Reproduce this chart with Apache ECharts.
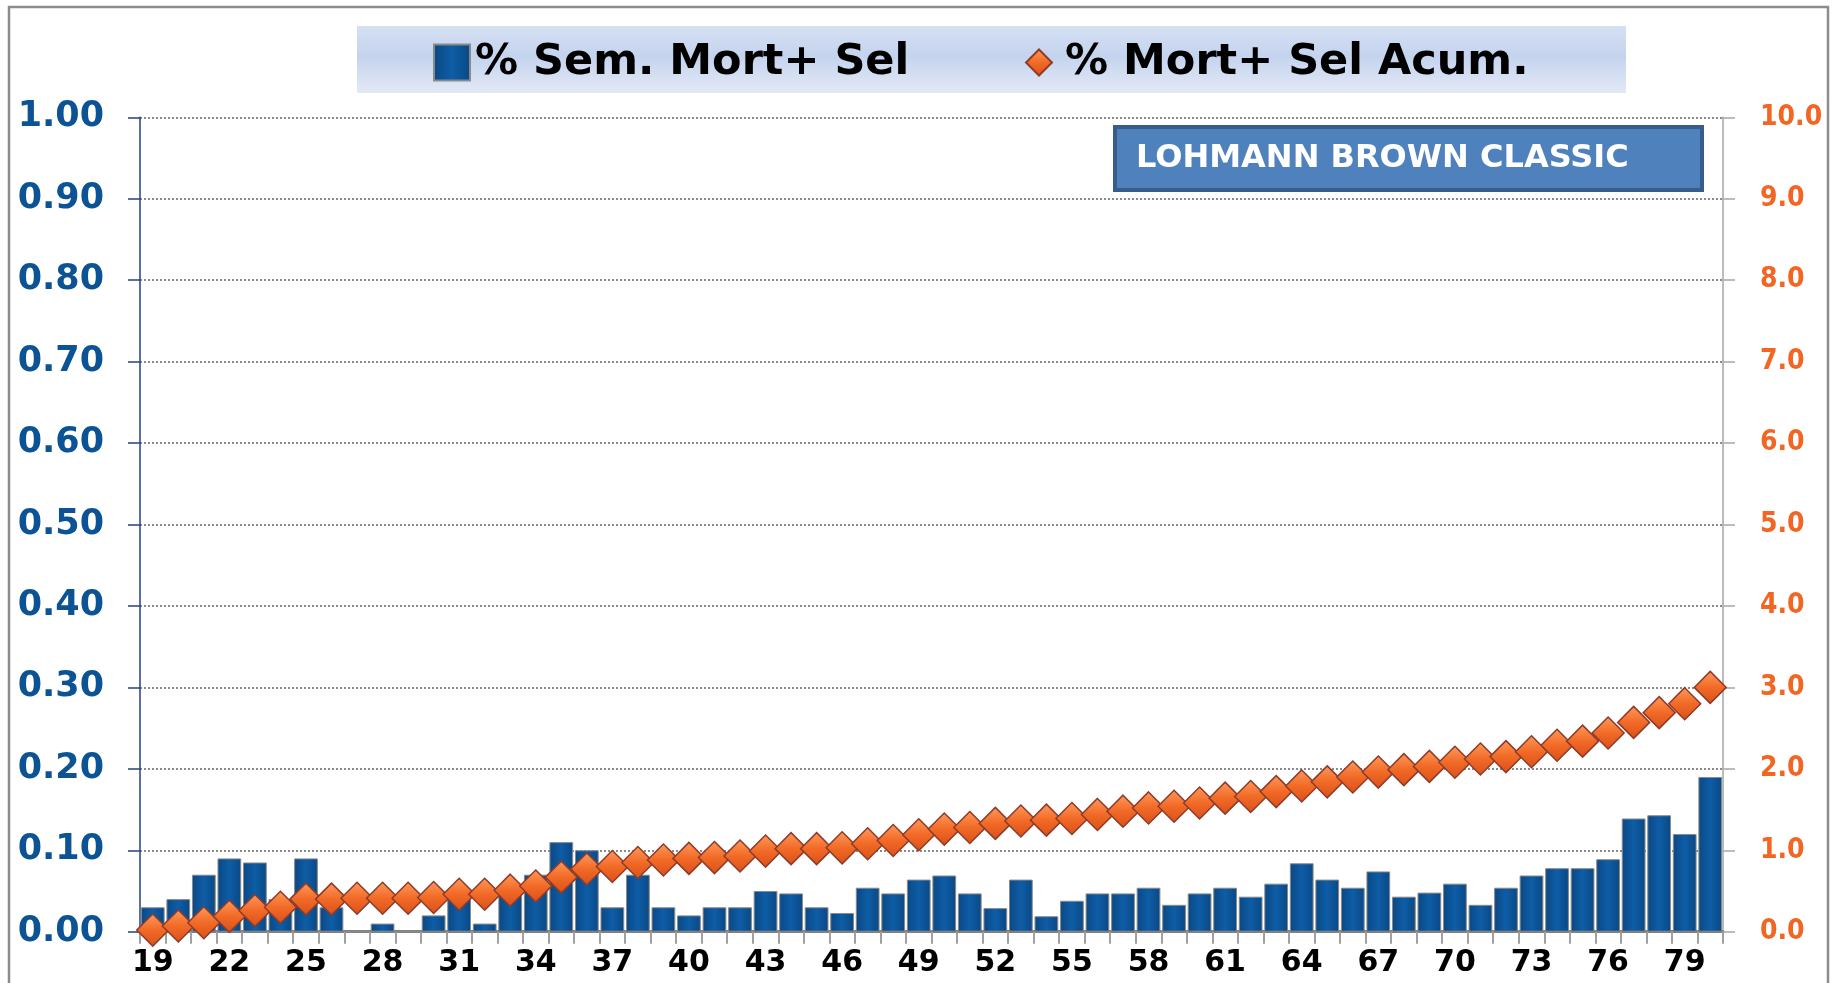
<!DOCTYPE html>
<html>
<head>
<meta charset="utf-8">
<script src="https://cdn.jsdelivr.net/npm/echarts@6/dist/echarts.min.js"></script>
<style>
html,body{margin:0;padding:0;background:#fff;}
#chart{width:1837px;height:983px;}
</style>
</head>
<body>
<div id="chart"></div>
<script>
const weeks = [19,20,21,22,23,24,25,26,27,28,29,30,31,32,33,34,35,36,37,38,39,40,41,42,43,44,45,46,47,48,49,50,51,52,53,54,55,56,57,58,59,60,61,62,63,64,65,66,67,68,69,70,71,72,73,74,75,76,77,78,79,80];
const weeklyMortSel = [0.03,0.04,0.07,0.09,0.085,0.04,0.09,0.03,0,0.01,0,0.02,0.04,0.01,0.05,0.07,0.11,0.10,0.03,0.07,0.03,0.02,0.03,0.03,0.05,0.047,0.03,0.023,0.054,0.047,0.064,0.069,0.047,0.029,0.064,0.019,0.038,0.047,0.047,0.054,0.033,0.047,0.054,0.043,0.059,0.084,0.064,0.054,0.074,0.043,0.048,0.059,0.033,0.054,0.069,0.078,0.078,0.089,0.139,0.143,0.12,0.19];
const cumMortSel = [0.02,0.07,0.11,0.19,0.26,0.30,0.40,0.40,0.41,0.41,0.41,0.42,0.46,0.46,0.51,0.56,0.67,0.77,0.80,0.85,0.88,0.90,0.91,0.93,0.99,1.02,1.02,1.03,1.08,1.12,1.19,1.26,1.28,1.33,1.36,1.37,1.39,1.44,1.48,1.52,1.54,1.58,1.64,1.66,1.72,1.79,1.84,1.90,1.96,1.99,2.03,2.08,2.12,2.15,2.21,2.29,2.34,2.44,2.57,2.69,2.80,3.00];
const seriesNames = ['% Sem. Mort+ Sel', '% Mort+ Sel Acum.'];
const chartTitle = 'LOHMANN BROWN CLASSIC';

const barFill = new echarts.graphic.LinearGradient(0,0,1,0,[
  {offset:0,color:'#0A4884'},{offset:0.5,color:'#0E5DA6'},{offset:1,color:'#0A4884'}]);
const diaFill = new echarts.graphic.LinearGradient(0,0,0,1,[
  {offset:0,color:'#FF9A5C'},{offset:0.5,color:'#F26A26'},{offset:1,color:'#D9501A'}]);

const chart = echarts.init(document.getElementById('chart'), null, {renderer:'canvas'});
chart.setOption({
  animation:false,
  backgroundColor:'#ffffff',
  textStyle:{fontFamily:'DejaVu Sans'},
  graphic:[
    {type:'rect', z:-10, shape:{x:9,y:7,width:1819,height:990}, style:{fill:'none',stroke:'#8C8C8C',lineWidth:2.5}},
    {type:'rect', z:-5, shape:{x:357,y:26,width:1269,height:67},
      style:{fill:new echarts.graphic.LinearGradient(0,0,0,1,[
        {offset:0,color:'#D6E0F3'},{offset:0.45,color:'#C4D3EE'},{offset:1,color:'#E3EAF6'}])}}
  ],
  title:{
    text:chartTitle, left:1115, top:127,
    backgroundColor:'#4F81BD', borderColor:'#385D8A', borderWidth:4,
    padding:[15,74,15,21],
    textStyle:{color:'#ffffff', fontFamily:'DejaVu Sans', fontWeight:'bold', fontSize:32, lineHeight:33}
  },
  legend:[
    {data:[{name:seriesNames[0], icon:'rect'}], left:433, top:41, padding:0, itemWidth:36, itemHeight:36,
      textStyle:{fontFamily:'DejaVu Sans', fontWeight:'bold', fontSize:43, color:'#000'}},
    {data:[{name:seriesNames[1], icon:'diamond'}], left:1025, top:41, padding:0, itemWidth:26, itemHeight:26,
      textStyle:{fontFamily:'DejaVu Sans', fontWeight:'bold', fontSize:43, color:'#000', padding:[0,0,0,8]}}
  ],
  grid:{left:140, right:114, top:117.3, bottom:51.3, containLabel:false},
  xAxis:{
    type:'category', data:weeks,
    axisLine:{show:true, lineStyle:{color:'#808080', width:3}},
    axisTick:{show:true, interval:0, length:12, lineStyle:{color:'#A0A0A0', width:2}},
    axisLabel:{interval:2, margin:17, color:'#000', fontFamily:'DejaVu Sans', fontWeight:'bold', fontSize:30}
  },
  yAxis:[
    {type:'value', min:0, max:1, interval:0.1, position:'left',
      axisLine:{show:true, lineStyle:{color:'#24407F', width:1.5}},
      axisTick:{show:true, length:12, lineStyle:{color:'#24407F', width:1.5}},
      axisLabel:{margin:36, color:'#0B5394', fontFamily:'DejaVu Sans', fontWeight:'bold', fontSize:35,
        formatter:v=>v.toFixed(2)},
      splitLine:{show:true, lineStyle:{color:'#8A8A8A', width:2, type:[2,2]}}
    },
    {type:'value', min:0, max:10, interval:1, position:'right',
      axisLine:{show:true, lineStyle:{color:'#A6A6A6', width:1.5}},
      axisTick:{show:true, length:12, lineStyle:{color:'#A6A6A6', width:1.5}},
      axisLabel:{margin:37, color:'#F26522', fontFamily:'DejaVu Sans Condensed, DejaVu Sans', fontWeight:'bold', fontSize:28,
        formatter:v=>v.toFixed(1)},
      splitLine:{show:false}
    }
  ],
  series:[
    {name:seriesNames[0], type:'bar', data:weeklyMortSel, yAxisIndex:0, barCategoryGap:'7%',
      itemStyle:{color:barFill, borderColor:'#8A8A8A', borderWidth:1}, z:2},
    {name:seriesNames[1], type:'line', data:cumMortSel, yAxisIndex:1, symbol:'diamond', symbolSize:32,
      showSymbol:true, showAllSymbol:true, lineStyle:{width:0, opacity:0},
      itemStyle:{color:diaFill, borderColor:'#8E3B2A', borderWidth:1.5}, z:5}
  ]
});
</script>
</body>
</html>
